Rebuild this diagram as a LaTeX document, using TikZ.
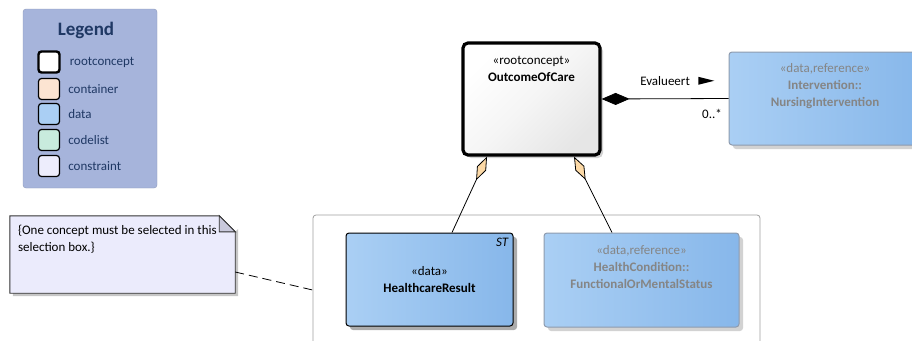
\documentclass[tikz,border=0pt]{standalone}
\usepackage{fontspec}
\setmainfont{Carlito}
\usetikzlibrary{positioning,arrows.meta,shadows,calc}

\definecolor{legendbg}{HTML}{A6B4DB}
\definecolor{legendfg}{HTML}{1F3864}
\definecolor{rootfill}{HTML}{E6E6E6}
\definecolor{peach}{HTML}{FCD9A6}
\definecolor{contfill}{HTML}{FCE4D2}
\definecolor{dataleft}{HTML}{AACFF4}
\definecolor{dataright}{HTML}{87B7EA}
\definecolor{codefill}{HTML}{C8EBDD}
\definecolor{constfill}{HTML}{EDEDFC}
\definecolor{refborder}{HTML}{8E9BAE}
\definecolor{reftext}{HTML}{858585}
\definecolor{notefill}{HTML}{EBEBFC}
\definecolor{notefold}{HTML}{C9C9DC}

\begin{document}
\begin{tikzpicture}[x=1pt,y=-1pt,
	every node/.style={font=\fontsize{13}{17}\selectfont},
	box/.style={rectangle,rounded corners=3pt,inner sep=0pt},
	swatch/.style={box,draw=black,line width=1.2pt,minimum size=21pt},
	legtext/.style={text=legendfg,inner sep=0pt},
	rootbox/.style={box,draw=black,line width=3.2pt,rounded corners=5pt,
		shading=axis,top color=white,bottom color=rootfill,middle color=white!60!rootfill,shading angle=45,
		drop shadow={shadow xshift=3pt,shadow yshift=-3pt,fill=gray!35,opacity=1}},
	databox/.style={box,draw=black,line width=1pt,left color=dataleft,right color=dataright,
		drop shadow={shadow xshift=4pt,shadow yshift=-4pt,fill=gray!65,opacity=1}},
	refbox/.style={box,draw=refborder,line width=1pt,left color=dataleft,right color=dataright,
		drop shadow={shadow xshift=4pt,shadow yshift=-4pt,fill=gray!35,opacity=1}},
	reftitle/.style={align=center,text=reftext,inner sep=0pt},
	selbox/.style={box,draw=gray!75,line width=0.8pt},
	agg/.style={-{Diamond[length=26pt,width=10pt,fill=peach]},line width=0.8pt},
	comp/.style={{Diamond[length=28pt,width=12pt]}-,line width=0.8pt}
]
	\useasboundingbox (0,0) rectangle (912,340);
	\clip (0,0) rectangle (912,340);

	% legend
	\node[box,fill=legendbg,draw=legendbg!85!black,minimum width=134pt,minimum height=179pt] (legend) at (90,98.5) {};
	\node[font=\fontsize{19}{20}\selectfont\bfseries,text=legendfg] (legtitle) at (86,30) {Legend};
	\node[swatch,fill=white,line width=2.4pt] (sw1) at (49,62) {};
	\node[swatch,fill=contfill] (sw2) at (49,89) {};
	\node[swatch,fill=dataleft] (sw3) at (49,114) {};
	\node[swatch,fill=codefill] (sw4) at (49,140) {};
	\node[swatch,fill=constfill] (sw5) at (49,166) {};
	\node[legtext,right=9pt of sw1] (lt1) {rootconcept};
	\node[legtext,right=8pt of sw2] (lt2) {container};
	\node[legtext,right=8pt of sw3] (lt3) {data};
	\node[legtext,right=8pt of sw4] (lt4) {codelist};
	\node[legtext,right=8pt of sw5] (lt5) {constraint};

	% selection box
	\node[selbox,minimum width=447pt,minimum height=150pt] (sel) at (536.5,290) {};

	% classes
	\node[rootbox,minimum width=137pt,minimum height=112pt] (ooc) at (531.5,99) {};
	\node[align=center,inner sep=0pt,below=15pt of ooc.north] (ooct) {«rootconcept»\\\textbf{OutcomeOfCare}};

	\node[refbox,minimum width=192pt,minimum height=93pt] (ni) at (825,98.5) {};
	\node[reftitle,below=12pt of ni.north] (nit) {«data,reference»\\\textbf{Intervention::}\\\textbf{NursingIntervention}};

	\node[databox,align=center,minimum width=167pt,minimum height=93pt] (hr) at (429.5,279.5) {«data»\\\textbf{HealthcareResult}};
	\node[anchor=north east,inner sep=0pt,font=\fontsize{13}{14}\selectfont\itshape] (hrst) at ([xshift=-5pt,yshift=-5pt]hr.north east) {ST};

	\node[refbox,minimum width=195pt,minimum height=94pt] (hc) at (641.5,280) {};
	\node[reftitle,below=13pt of hc.north] (hct) {«data,reference»\\\textbf{HealthCondition::}\\\textbf{FunctionalOrMentalStatus}};

	% note
	\node[box,minimum width=225pt,minimum height=77pt] (note) at (122.5,254.5) {};
	\fill[gray!45] ([xshift=3pt,yshift=-13pt]note.north east) -- ([xshift=3pt,yshift=-3pt]note.south east)
		-- ([xshift=3pt,yshift=-3pt]note.south west) -- ([xshift=3pt]note.south west)
		-- (note.south east) -- ([yshift=-16pt]note.north east) -- cycle;
	\filldraw[fill=notefill,draw=black!80,line width=0.9pt] (note.north west) -- ([xshift=-16pt]note.north east)
		-- ([yshift=-16pt]note.north east) -- (note.south east) -- (note.south west) -- cycle;
	\filldraw[fill=notefold,draw=black!80,line width=0.9pt] ([xshift=-16pt]note.north east)
		-- ([xshift=-16pt,yshift=-16pt]note.north east) -- ([yshift=-16pt]note.north east) -- cycle;
	\node[anchor=north west,align=left,inner sep=0pt] (notet) at ([xshift=8pt,yshift=-9pt]note.north west)
		{\{One concept must be selected in this\\selection box.\}};

	% connectors
	\draw[dashed,dash pattern=on 9pt off 5pt,line width=0.8pt] ([yshift=-17.5pt]note.east) -- (sel.west);
	\draw[agg] ([xshift=22.5pt]hr.north) -- ([xshift=-44.5pt]ooc.south); % HealthcareResult
	\draw[agg] ([xshift=-29.5pt]hc.north) -- ([xshift=42.5pt]ooc.south); % HealthCondition
	\draw[comp] (ooc.east) -- (ni.west)
		node[pos=0.5,above=13pt,inner sep=0pt] (evl) {Evalueert}
		node[pos=0.87,below=10pt,inner sep=0pt] (mult) {0..*};
	\coordinate[right=8pt of evl.east] (dir);
	\fill ([yshift=4pt]dir) -- ([xshift=16pt]dir) -- ([yshift=-4pt]dir) -- cycle;

\end{tikzpicture}
\end{document}
